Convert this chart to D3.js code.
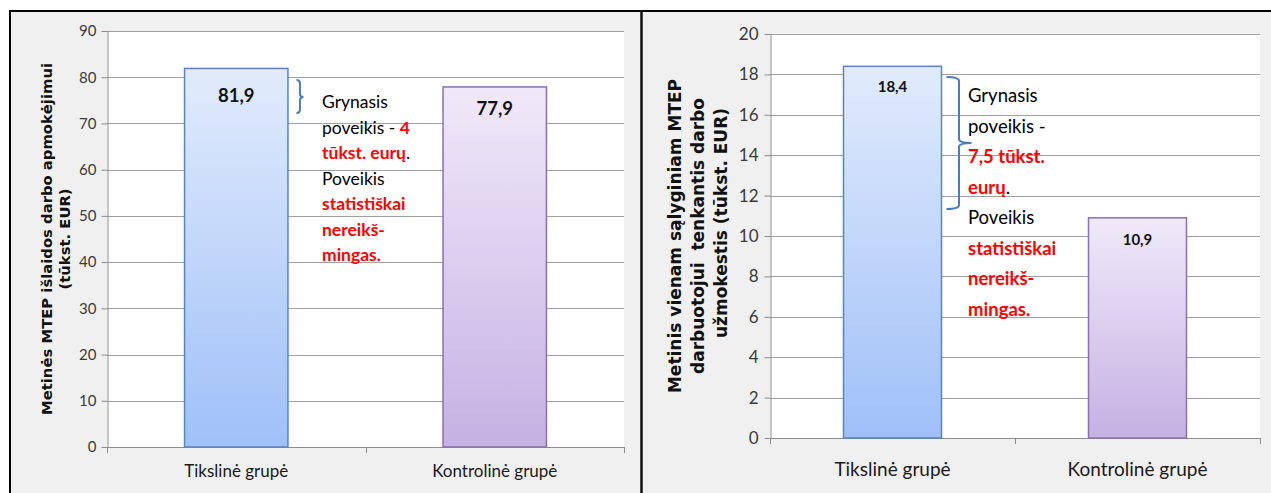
<!DOCTYPE html>
<html>
<head>
<meta charset="utf-8">
<script src="https://cdn.jsdelivr.net/npm/d3@7"></script>
<style>
  html, body { margin: 0; padding: 0; background: #ffffff; }
  svg { display: block; }
</style>
</head>
<body>
<svg id="chart" width="1271" height="493"></svg>
<script>
// ---- data ----
const categories = ["Tikslinė grupė", "Kontrolinė grupė"];
const spendingValues = [81.9, 77.9];          // annual R&D wage spending, thous. EUR
const costPerWorkerValues = [18.4, 10.9];     // annual wage cost per FTE R&D worker, thous. EUR
const spendingTicks = [0, 10, 20, 30, 40, 50, 60, 70, 80, 90];
const costPerWorkerTicks = [0, 2, 4, 6, 8, 10, 12, 14, 16, 18, 20];
const spendingTitle = ["Metinės MTEP išlaidos darbo apmokėjimui", "(tūkst. EUR)"];
const costPerWorkerTitle = ["Metinis vienam sąlyginiam MTEP", "darbuotojui  tenkantis darbo", "užmokestis (tūkst. EUR)"];

const comma = v => String(Math.round(v * 10) / 10).replace(".", ",");

// note text: each line is a list of [text, highlighted] segments
function noteLines(diff, wrap) {
  const d = comma(diff);
  if (wrap === "short") {
    return [
      [["Grynasis", false]],
      [["poveikis - ", false], [d, true]],
      [["tūkst. eurų", true], [".", false]],
      [["Poveikis", false]],
      [["statistiškai", true]],
      [["nereikš-", true]],
      [["mingas.", true]]
    ];
  }
  return [
    [["Grynasis", false]],
    [["poveikis -", false]],
    [[d + " tūkst.", true]],
    [["eurų", true], [".", false]],
    [["Poveikis", false]],
    [["statistiškai", true]],
    [["nereikš-", true]],
    [["mingas.", true]]
  ];
}

const svg = d3.select("#chart");
const W = 1271, H = 493;
const bodyFont = "Lato, 'Open Sans', sans-serif";
const titleFont = "'DejaVu Sans', Verdana, sans-serif";

// gradients for the two bar series
const defs = svg.append("defs");
function gradient(id, top, bottom) {
  const g = defs.append("linearGradient").attr("id", id)
    .attr("x1", 0).attr("y1", 0).attr("x2", 0).attr("y2", 1);
  g.append("stop").attr("offset", "0%").attr("stop-color", top);
  g.append("stop").attr("offset", "100%").attr("stop-color", bottom);
}
gradient("gradBlue", "#e1ebfc", "#9fc0f8");
gradient("gradPurple", "#f0e9f9", "#c6b1e3");
const barFills = ["url(#gradBlue)", "url(#gradPurple)"];
const barStrokes = ["#5685c6", "#8a6fb3"];

// page frame
svg.append("rect").attr("x", 0).attr("y", 0).attr("width", W).attr("height", H).attr("fill", "#ffffff");
svg.append("rect").attr("x", 9).attr("y", 10).attr("width", W - 9).attr("height", H - 10).attr("fill", "#f0f0f0");
svg.append("line").attr("x1", 9).attr("x2", W).attr("y1", 11).attr("y2", 11).attr("stroke", "#000").attr("stroke-width", 2);
svg.append("line").attr("x1", 10).attr("x2", 10).attr("y1", 10).attr("y2", H).attr("stroke", "#000").attr("stroke-width", 2);
svg.append("line").attr("x1", 641.5).attr("x2", 641.5).attr("y1", 10).attr("y2", H).attr("stroke", "#111").attr("stroke-width", 2.5);

function drawPanel(cfg) {
  const g = svg.append("g");
  const y = d3.scaleLinear().domain([0, d3.max(cfg.ticks)]).range([cfg.bottom, cfg.top]);
  const x = d3.scaleBand().domain(categories).range([cfg.left, cfg.right])
    .paddingInner(0.6).paddingOuter(0.3);

  // plot area
  g.append("rect").attr("x", cfg.left).attr("y", cfg.top)
    .attr("width", cfg.right - cfg.left).attr("height", cfg.bottom - cfg.top)
    .attr("fill", "#ffffff");

  // horizontal gridlines
  g.append("g").selectAll("line").data(cfg.ticks.filter(t => t > 0)).join("line")
    .attr("x1", cfg.left).attr("x2", cfg.right)
    .attr("y1", d => Math.round(y(d)) + 0.5).attr("y2", d => Math.round(y(d)) + 0.5)
    .attr("stroke", "#a0a0a0").attr("stroke-width", 1);

  // value axis
  const yAxis = g.append("g").attr("transform", `translate(${cfg.left + 0.5},0)`)
    .call(d3.axisLeft(y).tickValues(cfg.ticks).tickFormat(d3.format("d"))
      .tickSize(6).tickSizeOuter(0).tickPadding(cfg.tickPad));
  yAxis.select(".domain").attr("stroke", "#8c8c8c");
  yAxis.selectAll(".tick line").attr("stroke", "#8c8c8c");
  yAxis.selectAll(".tick text").attr("fill", "#3a3a3a")
    .style("font-family", bodyFont).style("font-size", cfg.tickFont + "px");

  // category axis
  const step = x.step();
  const bounds = [cfg.left, cfg.left + step, cfg.right];
  g.append("line").attr("x1", cfg.left).attr("x2", cfg.right)
    .attr("y1", cfg.bottom + 0.5).attr("y2", cfg.bottom + 0.5).attr("stroke", "#8c8c8c");
  g.append("g").selectAll("line").data(bounds).join("line")
    .attr("x1", d => Math.round(d) + 0.5).attr("x2", d => Math.round(d) + 0.5)
    .attr("y1", cfg.bottom).attr("y2", cfg.bottom + 6).attr("stroke", "#8c8c8c");
  const xAxis = g.append("g").attr("transform", `translate(0,${cfg.bottom})`)
    .call(d3.axisBottom(x).tickSize(0).tickPadding(cfg.catPad));
  xAxis.select(".domain").remove();
  xAxis.selectAll(".tick text").attr("fill", "#1a1a1a")
    .style("font-family", bodyFont).style("font-size", cfg.catFont + "px");

  // bars
  g.append("g").selectAll("rect").data(cfg.values).join("rect")
    .attr("x", (d, i) => x(categories[i]))
    .attr("y", d => y(d))
    .attr("width", x.bandwidth())
    .attr("height", d => y(0) - y(d))
    .attr("fill", (d, i) => barFills[i])
    .attr("stroke", (d, i) => barStrokes[i])
    .attr("stroke-width", 1.5);

  // value labels
  g.append("g").selectAll("text").data(cfg.values).join("text")
    .attr("x", (d, i) => x(categories[i]) + x.bandwidth() / 2)
    .attr("y", (d, i) => y(d) + cfg.labelDy[i])
    .attr("text-anchor", "middle")
    .attr("dominant-baseline", "central")
    .style("font-family", bodyFont).style("font-weight", 700)
    .style("font-size", cfg.valueFont + "px").attr("fill", "#111")
    .text(d => comma(d));

  // axis title
  const tx = cfg.titleX, ty = (cfg.top + cfg.bottom) / 2;
  const title = g.append("text")
    .attr("transform", `translate(${tx},${ty}) rotate(-90)`)
    .attr("text-anchor", "middle")
    .attr("xml:space", "preserve")
    .style("white-space", "pre")
    .style("font-family", titleFont).style("font-weight", 700)
    .style("font-size", cfg.titleFont + "px").attr("fill", "#111");
  cfg.title.forEach((line, i) => {
    title.append("tspan").attr("x", cfg.titleShift[i]).attr("y", i * cfg.titleGap).text(line);
  });

  // curly brace next to the first bar
  const b = cfg.brace;
  const xl = x(categories[0]) + x.bandwidth() + b.gap;
  const xs = xl + b.depth, xt = xs + b.depth;
  const yT = b.top, yB = b.bottom, yM = b.mid, r = Math.min(b.depth, 4);
  const path = [
    `M${xl},${yT}`, `Q${xs},${yT} ${xs},${yT + r}`,
    `L${xs},${yM - r}`, `Q${xs},${yM} ${xt},${yM}`,
    `Q${xs},${yM} ${xs},${yM + r}`,
    `L${xs},${yB - r}`, `Q${xs},${yB} ${xl},${yB}`
  ].join(" ");
  g.append("path").attr("d", path).attr("fill", "none")
    .attr("stroke", "#4a7ebb").attr("stroke-width", 2);

  // note text
  const note = g.append("text")
    .style("font-family", bodyFont).style("font-size", cfg.noteFont + "px");
  cfg.note.forEach((segs, i) => {
    segs.forEach(([t, hot], j) => {
      const ts = note.append("tspan").text(t)
        .attr("fill", hot ? "#ff0000" : "#000000")
        .style("font-weight", hot ? 700 : 400);
      if (j === 0) ts.attr("x", cfg.noteX).attr("y", cfg.noteY + i * cfg.noteGap);
    });
  });
}

drawPanel({
  values: spendingValues, ticks: spendingTicks, title: spendingTitle,
  left: 107, right: 624, top: 31, bottom: 447,
  tickFont: 15, tickPad: 5, catFont: 17, catPad: 18,
  valueFont: 18.5, labelDy: [27, 21],
  titleX: 52, titleFont: 14.8, titleGap: 17.5, titleShift: [0, 0],
  brace: { gap: 8.5, depth: 3.5, top: 80, mid: 97, bottom: 113 },
  note: noteLines(spendingValues[0] - spendingValues[1], "short"),
  noteX: 322, noteY: 108, noteGap: 25.5, noteFont: 17.5
});

drawPanel({
  values: costPerWorkerValues, ticks: costPerWorkerTicks, title: costPerWorkerTitle,
  left: 770, right: 1260, top: 34, bottom: 438,
  tickFont: 17, tickPad: 6, catFont: 19, catPad: 25,
  valueFont: 15, labelDy: [20, 21],
  titleX: 681, titleFont: 17, titleGap: 23, titleShift: [0, 0, 13],
  brace: { gap: 5, depth: 12.5, top: 77, mid: 143, bottom: 209 },
  note: noteLines(costPerWorkerValues[0] - costPerWorkerValues[1], "long"),
  noteX: 968, noteY: 102, noteGap: 30.5, noteFont: 18.5
});
</script>
</body>
</html>
